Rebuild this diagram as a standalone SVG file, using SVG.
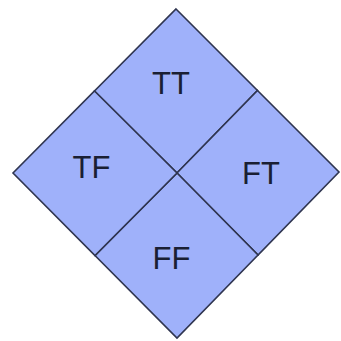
<svg xmlns="http://www.w3.org/2000/svg" width="341" height="341" viewBox="0 0 341 341">
<style>
.cell{fill:#9fb1fa;stroke:#2f3550;stroke-width:1.6;stroke-linejoin:miter}
.lbl{font-family:"Liberation Sans",Arial,sans-serif;font-size:31px;fill:#1a1f33;text-anchor:middle}
</style>
<rect width="341" height="341" fill="#ffffff"/>
<g id="TT"><polygon class="cell" points="176,9 257.5,90.5 177,173 94.5,91"/><text class="lbl" x="171" y="94">TT</text></g>
<g id="FT"><polygon class="cell" points="257.5,90.5 339,172 258,255 177,173"/><text class="lbl" x="261" y="184">FT</text></g>
<g id="FF"><polygon class="cell" points="177,173 258,255 177,338 95,255.5"/><text class="lbl" x="171.5" y="269">FF</text></g>
<g id="TF"><polygon class="cell" points="94.5,91 177,173 95,255.5 13,173"/><text class="lbl" x="91.5" y="178">TF</text></g>
<g id="connectors"></g>
</svg>
